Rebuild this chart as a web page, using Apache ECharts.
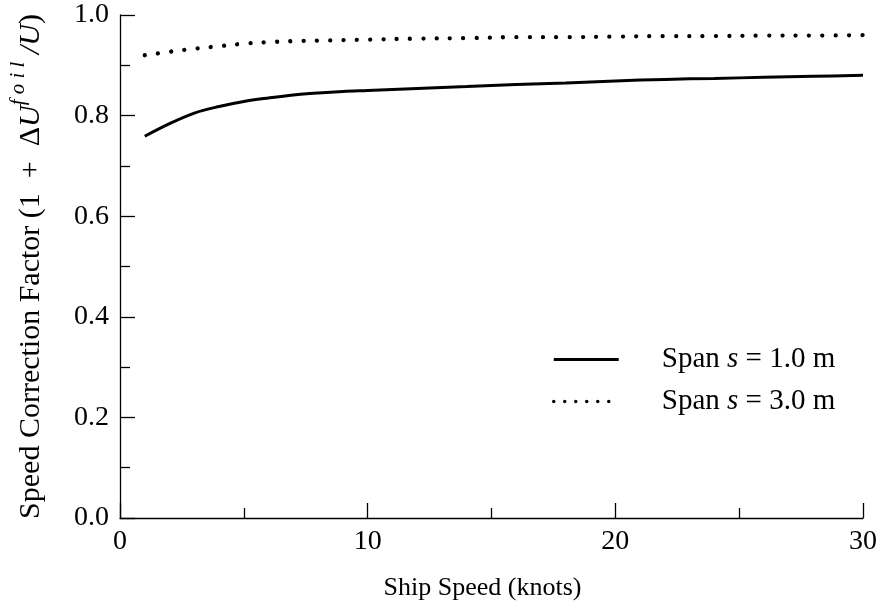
<!DOCTYPE html>
<html>
<head>
<meta charset="utf-8">
<script src="https://cdn.jsdelivr.net/npm/echarts@6/dist/echarts.min.js"></script>
<style>html,body{margin:0;padding:0;background:#fff}#c{width:881px;height:611px}</style>
</head>
<body>
<div id="c"></div>
<script>
const speeds = [1, 2, 3, 4, 5, 6, 7, 8, 9, 10, 12, 14, 16, 18, 20, 22, 24, 26, 28, 30];
const span1 = [0.759, 0.784, 0.805, 0.818, 0.828, 0.835, 0.841, 0.845, 0.848, 0.850, 0.854, 0.858, 0.862, 0.865, 0.869, 0.872, 0.874, 0.876, 0.878, 0.880];
const span3 = [0.920, 0.927, 0.933, 0.938, 0.943, 0.946, 0.948, 0.949, 0.950, 0.951, 0.953, 0.954, 0.956, 0.956, 0.957, 0.958, 0.958, 0.959, 0.959, 0.960];
const seriesNames = ['Span s = 1.0 m', 'Span s = 3.0 m'];

const FONT = '"Liberation Serif", "Times New Roman", serif';
const chart = echarts.init(document.getElementById('c'), null, {renderer: 'canvas'});
const pairs = v => speeds.map((s, i) => [s, v[i]]);

chart.setOption({
  animation: false,
  backgroundColor: '#fff',
  grid: {left: 119, right: 18, top: 15, bottom: 93},
  legend: {
    orient: 'vertical',
    left: 547,
    top: 340,
    padding: 5,
    itemWidth: 65,
    itemHeight: 28,
    itemGap: 13,
    itemStyle: {opacity: 0},
    data: [
      {name: seriesNames[0], lineStyle: {color: '#000', width: 3, type: 'solid'}},
      {name: seriesNames[1], lineStyle: {color: '#000', width: 3.5, type: [0.001, 11], cap: 'round'}}
    ],
    formatter: function (n) {
      const m = n.match(/^Span s = (.*)$/);
      return '{a|Span }{i|s}{a| = ' + m[1] + '}';
    },
    textStyle: {
      fontFamily: FONT, fontSize: 29, color: '#000', padding: [0, 0, 0, 38],
      rich: {
        a: {fontFamily: FONT, fontSize: 29, color: '#000'},
        i: {fontFamily: FONT, fontSize: 29, fontStyle: 'italic', color: '#000'}
      }
    }
  },
  xAxis: {
    type: 'value', min: 0, max: 30, interval: 10,
    name: 'Ship Speed (knots)', nameLocation: 'middle', nameGap: 57,
    nameTextStyle: {fontFamily: FONT, fontSize: 26, color: '#000', padding: [0, 18, 0, 0]},
    axisLine: {show: true, onZero: false, lineStyle: {color: '#000', width: 1.3}},
    axisTick: {show: true, inside: true, length: 15, lineStyle: {color: '#000', width: 1.3}},
    minorTick: {show: true, splitNumber: 2, length: 10, lineStyle: {color: '#000', width: 1.3}},
    axisLabel: {fontFamily: FONT, fontSize: 28, color: '#000', margin: 10},
    splitLine: {show: false}
  },
  yAxis: {
    type: 'value', min: 0, max: 1, interval: 0.2,
    name: '{a|Speed Correction Factor (1  +  Δ}{i|U}{s|f o i l}{i| /U}{a|)}',
    nameLocation: 'middle', nameRotate: 90, nameGap: 74,
    nameTextStyle: {
      fontFamily: FONT, fontSize: 30, color: '#000',
      rich: {
        a: {fontFamily: FONT, fontSize: 30, color: '#000', lineHeight: 38, verticalAlign: 'bottom'},
        i: {fontFamily: FONT, fontSize: 30, fontStyle: 'italic', color: '#000', lineHeight: 38, verticalAlign: 'bottom'},
        s: {fontFamily: FONT, fontSize: 21, fontStyle: 'italic', color: '#000', lineHeight: 38, verticalAlign: 'top'}
      }
    },
    axisLine: {show: true, lineStyle: {color: '#000', width: 1.3}},
    axisTick: {show: true, inside: true, length: 15, lineStyle: {color: '#000', width: 1.3}},
    minorTick: {show: true, splitNumber: 2, length: 10, lineStyle: {color: '#000', width: 1.3}},
    axisLabel: {fontFamily: FONT, fontSize: 28, color: '#000', margin: 11,
      formatter: v => v.toFixed(1)},
    splitLine: {show: false}
  },
  series: [
    {
      name: seriesNames[0], type: 'line', data: pairs(span1), smooth: 0.35,
      showSymbol: false, symbol: 'none',
      lineStyle: {color: '#000', width: 3, type: 'solid'},
      itemStyle: {color: '#000'}
    },
    {
      name: seriesNames[1], type: 'line', data: pairs(span3), smooth: 0.35,
      showSymbol: false, symbol: 'none',
      lineStyle: {color: '#000', width: 4.3, type: [0.001, 13.3], cap: 'round'},
      itemStyle: {color: '#000'}
    }
  ]
});
</script>
</body>
</html>
